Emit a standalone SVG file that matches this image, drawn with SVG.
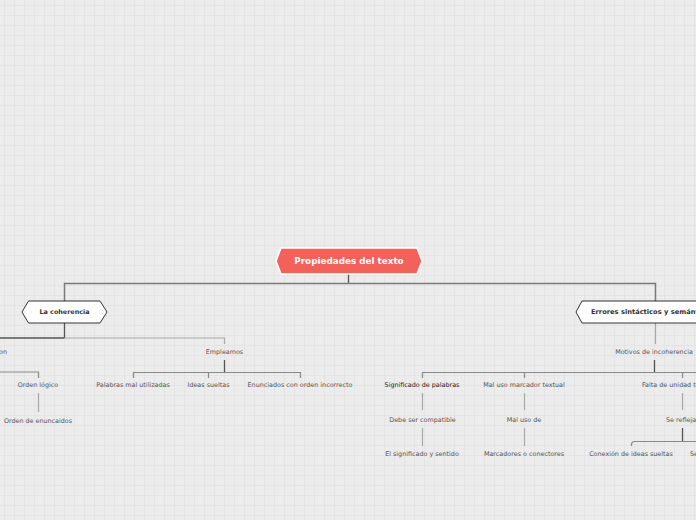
<svg xmlns="http://www.w3.org/2000/svg" width="696" height="520" viewBox="0 0 696 520">
<defs>
<pattern id="grid" width="10" height="10" patternUnits="userSpaceOnUse" x="4" y="5">
<rect width="10" height="10" fill="#ececec"/>
<path d="M0 0.5H10M0.5 0V10" stroke="#e4e4e4" stroke-width="1" fill="none"/>
</pattern>
</defs>
<style>
.t{font-family:"DejaVu Sans",Verdana,sans-serif;font-size:6.4px;fill:#555;text-anchor:middle;dominant-baseline:central}
.d{fill:#222}
.b{font-family:"DejaVu Sans",Verdana,sans-serif;font-weight:bold;text-anchor:middle;dominant-baseline:central}
.main{stroke:#7a7a7a;stroke-width:1.5;fill:none}
.dark{stroke:#555;stroke-width:1.3;fill:none}
.lt{stroke:#a8a8a8;stroke-width:1.2;fill:none}
.md{stroke:#888;stroke-width:1.2;fill:none}
</style>
<rect width="696" height="520" fill="url(#grid)"/>
<g id="connectors">
<path class="dark" d="M348.5 274V283"/>
<path class="main" d="M64.5 301V283.5H655.5V301"/>
<path class="dark" d="M64.5 323V338"/>
<path class="dark" d="M0 338H64.5"/>
<path class="lt" d="M64.5 338H224.5V344"/>
<path class="md" d="M0 372H38.5V378"/>
<path class="lt" d="M38.5 393V412"/>
<path class="dark" d="M224.5 360V372.5"/>
<path class="md" d="M133.5 378V372.5H300.5V378M208.5 372.5V378"/>
<path class="lt" d="M655.5 323V344"/>
<path class="dark" d="M654.5 360V372.5"/>
<path class="md" d="M422.5 378V372.5H696M524.5 372.5V378M682.5 372.5V378"/>
<path class="lt" d="M422.5 393V410M422.5 428V446"/>
<path class="lt" d="M524.5 393V410M524.5 428V446"/>
<path class="lt" d="M682.5 393V410"/>
<path class="dark" d="M682.5 428V441"/>
<path class="md" d="M631.5 446V444.5Q631.5 441.5 634.5 441.5H696"/>
</g>
<g id="central">
<polygon points="276,261 281,248 417,248 422,261 417,274 281,274" fill="#f2625a" stroke="#ffffff" stroke-width="1.5"/>
<text class="b" x="349" y="261" font-size="8.8" fill="#ffffff">Propiedades del texto</text>
</g>
<g id="coherencia">
<polygon points="22,312 28.5,301 100,301 107,312 100,323 28.5,323" fill="#ffffff" stroke="#333" stroke-width="1"/>
<text class="b" x="64.5" y="312" font-size="6.4" fill="#333">La coherencia</text>
</g>
<g id="errores">
<polygon points="576,312 582,301 730,301 736,312 730,323 582,323" fill="#ffffff" stroke="#333" stroke-width="1"/>
<text class="b" x="591" y="312" font-size="6.7" fill="#333" style="text-anchor:start">Errores sintácticos y semánticos</text>
</g>
<g id="on"><text class="t" x="7" y="352" style="text-anchor:end">on</text></g>
<g id="orden-logico"><text class="t" x="38" y="385">Orden lógico</text></g>
<g id="orden-enunc"><text class="t" x="38" y="420.5">Orden de enuncaidos</text></g>
<g id="empleamos"><text class="t" x="224.5" y="352">Empleamos</text></g>
<g id="palabras"><text class="t" x="133" y="385">Palabras mal utilizadas</text></g>
<g id="ideas"><text class="t" x="208.5" y="385">Ideas sueltas</text></g>
<g id="enunciados"><text class="t" x="300" y="385">Enunciados con orden incorrecto</text></g>
<g id="motivos"><text class="t" x="654" y="352">Motivos de incoherencia</text></g>
<g id="significado"><text class="t d" x="422" y="385">Significado de palabras</text></g>
<g id="maluso"><text class="t" x="524" y="385">Mal uso marcador textual</text></g>
<g id="falta"><text class="t" x="642" y="385" style="text-anchor:start">Falta de unidad temática</text></g>
<g id="debe"><text class="t" x="422.5" y="420">Debe ser compatible</text></g>
<g id="maluso-de"><text class="t" x="524" y="420">Mal uso de</text></g>
<g id="refleja"><text class="t" x="666" y="420" style="text-anchor:start">Se refleja en</text></g>
<g id="sentido"><text class="t" x="422" y="454">El significado y sentido</text></g>
<g id="marcadores"><text class="t" x="524" y="454">Marcadores o conectores</text></g>
<g id="conexion"><text class="t" x="631" y="454">Conexión de ideas sueltas</text></g>
<g id="se"><text class="t" x="690" y="454" style="text-anchor:start">Se</text></g>
</svg>
